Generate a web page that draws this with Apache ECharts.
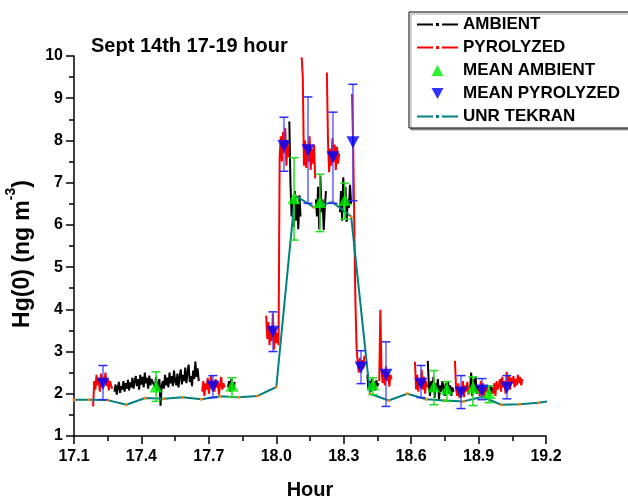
<!DOCTYPE html>
<html>
<head>
<meta charset="utf-8">
<title>Sept 14th 17-19 hour</title>
<script src="https://cdn.jsdelivr.net/npm/echarts@6/dist/echarts.min.js"></script>
<style>
  html, body { margin: 0; padding: 0; background: #fff; }
  #main { width: 628px; height: 500px; }
</style>
</head>
<body>
<div id="main"></div>
<script>
// sampling step of the ambient / pyrolyzed traces (hours)
const STEP = 0.005;

// ambient trace: start time of each run and its readings
const ambientStart = [17.28, 17.785, 18.058, 18.176, 18.283, 18.405, 18.674, 18.862, 18.942];
const ambientValues = [
  [2.05, 2.22, 1.98, 2.15, 2.28, 2.02, 2.18, 2.10, 2.30, 2.05, 2.25, 2.12, 2.33, 2.08, 2.27,
   2.15, 2.38, 2.12, 2.30, 2.42, 2.18, 2.35, 2.10, 2.45, 2.22, 2.40, 2.15, 2.50, 2.25, 2.38,
   2.12, 2.43, 2.20, 2.35, 2.28, 2.30, 2.15, 2.40, 2.08, 2.22, 2.35, 1.72, 2.18, 2.30, 2.12,
   2.45, 2.20, 2.38, 2.15, 2.50, 2.25, 2.42, 2.18, 2.55, 2.30, 2.20, 2.48, 2.15, 2.40, 2.58,
   2.22, 2.45, 2.30, 2.62, 2.25, 2.50, 2.69, 2.28, 2.42, 2.18, 2.55, 2.35, 2.76, 2.40, 2.60, 2.30],
  [2.15, 2.30, 2.05, 2.35, 2.20, 2.10, 2.28],
  [8.45, 7.0, 6.2, 6.6, 5.95, 6.8, 6.1, 6.5, 5.9, 6.7, 6.2],
  [6.6, 6.2, 6.9, 5.9, 7.17, 6.3, 6.6, 5.88, 6.4, 6.8],
  [6.3, 6.8, 6.1, 7.13, 6.5, 6.9, 6.07, 6.6, 6.4, 6.95, 6.5],
  [2.45, 2.1, 2.3, 2.05, 2.35, 2.15, 2.28, 2.08, 2.32, 2.18, 2.25],
  [2.78, 2.2, 1.95, 2.3, 2.05, 2.4, 1.9, 2.25, 2.1, 2.35, 1.86, 2.2, 2.05, 2.3, 2.15, 1.95,
   2.25, 2.1, 2.28, 2.0, 2.2, 1.95, 2.15, 2.05],
  [2.1, 2.5, 1.95, 2.35, 2.05, 2.4, 2.0, 2.2],
  [2.1, 1.95, 2.2, 2.0, 2.15]
];

// pyrolyzed trace
const pyroStart = [17.185, 17.67, 17.955, 18.113, 18.225, 18.337, 18.458, 18.617, 18.795, 18.9, 18.965];
const pyroValues = [
  [1.70, 2.30, 2.10, 2.45, 2.20, 2.38, 2.05, 2.48, 2.15, 2.40, 2.25, 2.50, 2.18, 2.35, 2.08, 2.30, 2.20, 2.12],
  [2.05, 2.30, 1.95, 2.25, 2.10, 2.38, 2.00, 2.20, 2.42, 2.12, 2.30, 2.05, 2.35, 2.15, 2.28, 1.98,
   2.22, 2.40, 2.10, 2.25, 2.15],
  [3.85, 3.30, 3.70, 3.15, 3.60, 3.25, 3.90, 3.05, 3.55, 3.20, 3.45, 3.15,
   7.6, 8.1, 7.5, 8.2, 7.7, 8.3, 7.4, 8.0, 7.6],
  [9.97, 9.5, 7.4, 8.0, 7.35, 7.9, 7.5, 8.1, 7.3, 7.8, 7.45, 7.9, 7.1],
  [9.61, 8.0, 7.25, 7.8, 7.4, 8.05, 7.5, 7.9, 7.3, 7.85, 7.45, 7.7],
  [9.1, 7.9, 6.0, 4.2, 3.1, 2.75, 2.5, 2.85, 2.55, 2.8, 2.6, 2.9],
  [2.3, 3.99, 2.6, 2.25, 2.55, 2.2, 2.65, 2.3, 2.5, 2.17, 2.45, 2.35],
  [2.76, 2.1, 2.45, 2.05, 2.35, 2.2, 2.57, 2.1, 2.4, 2.0, 2.3, 2.15],
  [2.78, 2.1, 1.95, 2.25, 1.9, 2.15, 2.0, 2.3, 1.92, 2.2, 2.05, 2.28, 1.98, 2.15],
  [2.2, 1.95, 2.3, 2.0, 2.25, 1.9, 2.15, 2.05, 2.2],
  [2.0, 2.25, 1.95, 2.3, 2.1, 2.2, 2.35, 2.05, 2.4, 2.15, 2.3, 2.0, 2.52, 2.2, 2.45, 2.1, 2.38,
   2.25, 2.42, 2.15, 2.35, 2.2, 2.45, 2.25, 2.4, 2.2, 2.35]
];

// means with error ranges
const meanAmbientT  = [17.465, 17.803, 18.079, 18.194, 18.305, 18.43, 18.701, 18.759, 18.875, 18.946];
const meanAmbientV  = [2.17, 2.19, 6.63, 6.54, 6.59, 2.22, 2.17, 2.12, 2.15, 2.02];
const meanAmbientLo = [1.82, 1.93, 5.64, 5.84, 6.14, 1.98, 1.74, 1.82, 1.72, 1.79];
const meanAmbientHi = [2.52, 2.38, 7.59, 7.2, 6.99, 2.38, 2.55, 2.29, 2.4, 2.19];

const meanPyroT  = [17.229, 17.718, 17.985, 18.034, 18.141, 18.252, 18.341, 18.377, 18.488, 18.644, 18.822, 18.915, 19.026];
const meanPyroV  = [2.24, 2.17, 3.47, 7.87, 7.77, 7.6, 7.96, 2.62, 2.45, 2.24, 2.03, 2.08, 2.14];
const meanPyroLo = [1.86, 1.91, 3.0, 7.27, 6.51, 6.51, 6.57, 2.24, 1.7, 1.91, 1.65, 1.86, 1.88];
const meanPyroHi = [2.67, 2.43, 3.94, 8.55, 9.03, 8.67, 9.33, 3.02, 3.23, 2.67, 2.43, 2.36, 2.43];

// UNR Tekran 5-minute values
const tekranT = [17.1, 17.167, 17.25, 17.333, 17.417, 17.5, 17.583, 17.667, 17.75, 17.833, 17.917,
  18.0, 18.083, 18.167, 18.25, 18.333, 18.417, 18.5, 18.583, 18.667, 18.75, 18.833, 18.917,
  19.0, 19.083, 19.167, 19.25];
const tekranV = [1.86, 1.86, 1.85, 1.74, 1.9, 1.88, 1.92, 1.87, 1.94, 1.92, 1.95,
  2.16, 6.7, 6.42, 6.54, 6.2, 2.0, 1.84, 2.0, 1.87, 1.84, 1.82, 1.93,
  1.74, 1.75, 1.79, 1.85];

const FONT = 'Liberation Sans, Arial, sans-serif';

function buildSegments(starts, values) {
  const out = [];
  starts.forEach((t0, k) => {
    values[k].forEach((v, i) => out.push([+(t0 + i * STEP).toFixed(4), v]));
    // break the line between runs
    out.push([+(t0 + values[k].length * STEP).toFixed(4), null]);
  });
  return out;
}

function zip(a, b, c) {
  return a.map((t, i) => (c ? [t, b[i], c[i]] : [t, b[i]]));
}

// error bar with caps, drawn through the axes
function errorBar(barColor, capColor, barWidth) {
  return function (params, api) {
    const x = api.value(0);
    const lo = api.coord([x, api.value(1)]);
    const hi = api.coord([x, api.value(2)]);
    const half = 4.5;
    return {
      type: 'group',
      children: [
        { type: 'line', shape: { x1: lo[0], y1: lo[1], x2: hi[0], y2: hi[1] },
          style: { stroke: barColor, lineWidth: barWidth } },
        { type: 'line', shape: { x1: hi[0] - half, y1: hi[1], x2: hi[0] + half, y2: hi[1] },
          style: { stroke: capColor, lineWidth: 1.5 } },
        { type: 'line', shape: { x1: lo[0] - half, y1: lo[1], x2: lo[0] + half, y2: lo[1] },
          style: { stroke: capColor, lineWidth: 1.5 } }
      ]
    };
  };
}

// legend icons (41 x 14 box)
const dashDot = 'path://M0,0M41,14M0,6h16v2h-16zM19,5.5h3v3h-3zM25,6h16v2h-16z';
const upTri = 'path://M0,0M41,14M14.5,12.5L20.5,1.5L26.5,12.5Z';
const downTri = 'path://M0,0M41,14M14.5,1.5L26.5,1.5L20.5,12.5Z';

const chart = echarts.init(document.getElementById('main'));
const option = {
  animation: false,
  backgroundColor: '#fff',
  textStyle: { fontFamily: FONT },
  title: {
    text: 'Sept 14th 17-19 hour',
    left: 91,
    top: 36,
    padding: 0,
    textStyle: { fontFamily: FONT, fontSize: 20, fontWeight: 'bold', color: '#000' }
  },
  legend: {
    orient: 'vertical',
    left: 409,
    top: 12,
    padding: [4, 12, 3, 8],
    itemWidth: 41,
    itemHeight: 14,
    itemGap: 6,
    borderColor: '#000',
    borderWidth: 1,
    shadowColor: 'rgba(0,0,0,0.35)',
    shadowOffsetX: 2,
    shadowOffsetY: 2,
    shadowBlur: 0,
    backgroundColor: '#fff',
    itemStyle: { borderWidth: 0 },
    textStyle: { fontFamily: FONT, fontSize: 17, fontWeight: 'bold', color: '#000' },
    data: [
      { name: 'AMBIENT', icon: dashDot },
      { name: 'PYROLYZED', icon: dashDot },
      { name: 'MEAN AMBIENT', icon: upTri },
      { name: 'MEAN PYROLYZED', icon: downTri },
      { name: 'UNR TEKRAN', icon: dashDot, itemStyle: { color: '#008080' } }
    ]
  },
  grid: { left: 74, right: 82, top: 56, bottom: 64, outerBoundsMode: 'none' },
  xAxis: {
    type: 'value',
    min: 17.1,
    max: 19.2,
    interval: 0.3,
    name: 'Hour',
    nameLocation: 'middle',
    nameGap: 44,
    nameTextStyle: { fontFamily: FONT, fontSize: 20, fontWeight: 'bold', color: '#000' },
    axisLine: { lineStyle: { color: '#000', width: 1.5 } },
    axisTick: { length: 8, lineStyle: { color: '#000', width: 1.5 } },
    minorTick: { show: true, splitNumber: 2, length: 5, lineStyle: { color: '#000', width: 1.5 } },
    splitLine: { show: false },
    axisLabel: {
      margin: 13,
      fontFamily: FONT, fontSize: 16, fontWeight: 'bold', color: '#000',
      formatter: v => v.toFixed(1)
    }
  },
  yAxis: {
    type: 'value',
    min: 1,
    max: 10,
    interval: 1,
    name: '{n|Hg(0) (ng m}{sup|-3}{n|)}',
    nameLocation: 'middle',
    nameGap: 33,
    nameTextStyle: {
      fontFamily: FONT, fontSize: 23, fontWeight: 'bold', color: '#000',
      padding: [0, 16, 0, 0],
      rich: {
        n: { fontFamily: FONT, fontSize: 23, fontWeight: 'bold', color: '#000', lineHeight: 30, verticalAlign: 'bottom' },
        sup: { fontFamily: FONT, fontSize: 14, fontWeight: 'bold', color: '#000', lineHeight: 14, verticalAlign: 'top' }
      }
    },
    axisLine: { show: true, lineStyle: { color: '#000', width: 1.5 } },
    axisTick: { show: true, length: 8, lineStyle: { color: '#000', width: 1.5 } },
    minorTick: { show: true, splitNumber: 2, length: 5, lineStyle: { color: '#000', width: 1.5 } },
    splitLine: { show: false },
    axisLabel: { margin: 11, fontFamily: FONT, fontSize: 16, fontWeight: 'bold', color: '#000' }
  },
  series: [
    {
      name: 'AMBIENT',
      type: 'line',
      data: buildSegments(ambientStart, ambientValues),
      symbol: 'none',
      connectNulls: false,
      color: '#000',
      lineStyle: { color: '#000', width: 2 },
      z: 2
    },
    {
      name: 'PYROLYZED',
      type: 'line',
      data: buildSegments(pyroStart, pyroValues),
      symbol: 'none',
      connectNulls: false,
      color: '#ff0000',
      lineStyle: { color: '#ff0000', width: 2 },
      z: 2
    },
    {
      name: 'UNR TEKRAN',
      type: 'line',
      data: zip(tekranT, tekranV),
      symbol: 'circle',
      symbolSize: 3,
      showSymbol: true,
      color: '#ff8000',
      itemStyle: { color: '#ff8000', borderWidth: 0 },
      lineStyle: { color: '#008080', width: 2 },
      z: 3
    },
    {
      name: 'ambient error',
      type: 'custom',
      data: zip(meanAmbientT, meanAmbientLo, meanAmbientHi),
      encode: { x: 0, y: [1, 2] },
      renderItem: errorBar('#22dd22', '#22dd22', 1.5),
      z: 4
    },
    {
      name: 'pyrolyzed error',
      type: 'custom',
      data: zip(meanPyroT, meanPyroLo, meanPyroHi),
      encode: { x: 0, y: [1, 2] },
      renderItem: errorBar('rgba(70,70,255,0.65)', '#2a2aff', 2),
      z: 4
    },
    {
      name: 'MEAN AMBIENT',
      type: 'scatter',
      data: zip(meanAmbientT, meanAmbientV),
      symbol: 'triangle',
      symbolSize: [13, 12],
      color: '#00f000',
      itemStyle: { color: '#00f000' },
      z: 5
    },
    {
      name: 'MEAN PYROLYZED',
      type: 'scatter',
      data: zip(meanPyroT, meanPyroV),
      symbol: 'triangle',
      symbolRotate: 180,
      symbolSize: [13, 12],
      color: '#0000ff',
      itemStyle: { color: '#0000ff' },
      z: 5
    }
  ]
};
chart.setOption(option);
</script>
</body>
</html>
